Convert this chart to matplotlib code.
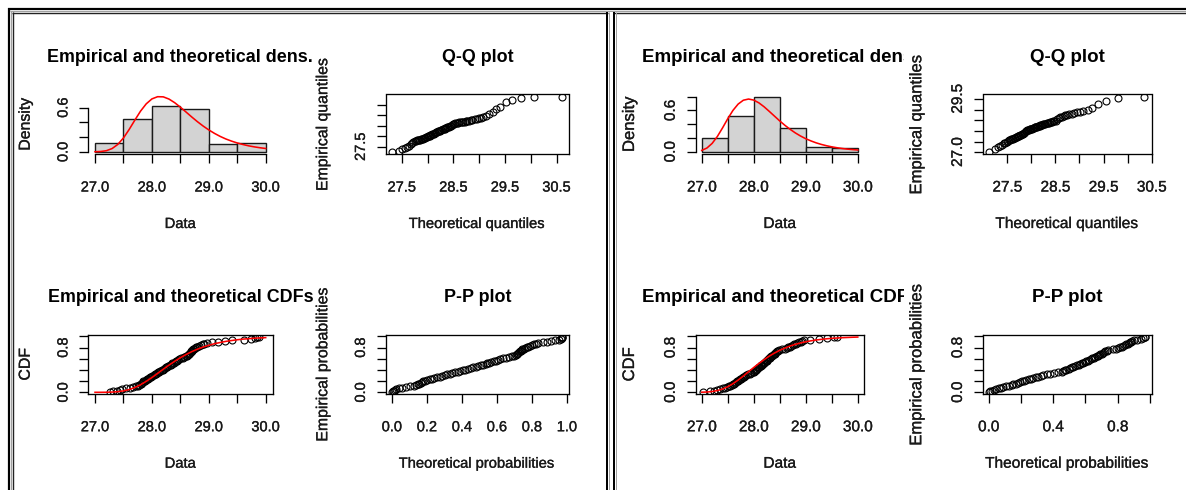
import numpy as np
import matplotlib
matplotlib.use("Agg")
import matplotlib.pyplot as plt
import matplotlib.patheffects as pe
from matplotlib.transforms import Bbox, TransformedBbox

plt.rcParams['font.family'] = ['Liberation Sans', 'DejaVu Sans']

W, H = 1186, 490

# histogram breaks and the x grid where the fitted curves were read
bin_edges = [27.0, 27.5, 28.0, 28.5, 29.0, 29.5, 30.0]
curve_x = [27.0, 27.1, 27.2, 27.3, 27.4, 27.5, 27.6, 27.7, 27.8, 27.9, 28.0,
           28.1, 28.2, 28.3, 28.4, 28.5, 28.6, 28.7, 28.8, 28.9, 29.0,
           29.1, 29.2, 29.3, 29.4, 29.5, 29.6, 29.7, 29.8, 29.9, 30.0]

# ---- left fit ----
left_sample = [27.26, 27.31, 27.38, 27.44, 27.48,
               27.55, 27.61, 27.66, 27.72, 27.76, 27.78, 27.80, 27.81, 27.83, 27.84,
               27.85, 27.87, 27.89, 27.91, 27.93, 27.95, 27.97, 27.99,
               28.01, 28.03, 28.05, 28.07, 28.09, 28.11, 28.13, 28.15, 28.17, 28.19,
               28.21, 28.23, 28.25, 28.27, 28.29, 28.31, 28.33, 28.35, 28.36, 28.38,
               28.40, 28.42, 28.44, 28.46, 28.48,
               28.51, 28.54, 28.57, 28.60, 28.62, 28.64, 28.65, 28.66, 28.67, 28.68,
               28.69, 28.70, 28.71, 28.72, 28.74, 28.76, 28.78, 28.80, 28.83, 28.86,
               28.89, 28.92, 28.96,
               29.06, 29.16, 29.28, 29.41,
               29.62, 29.74, 29.82, 29.85, 29.88]
left_theo_q = [27.32, 27.44, 27.51, 27.56, 27.60, 27.64, 27.67, 27.70, 27.72, 27.75,
               27.77, 27.80, 27.82, 27.84, 27.86, 27.88, 27.90, 27.91, 27.93, 27.95,
               27.97, 27.99, 28.00, 28.02, 28.04, 28.05, 28.07, 28.09, 28.10, 28.12,
               28.14, 28.15, 28.17, 28.19, 28.20, 28.22, 28.24, 28.26, 28.27, 28.29,
               28.31, 28.33, 28.34, 28.36, 28.38, 28.40, 28.42, 28.44, 28.46, 28.48,
               28.50, 28.52, 28.54, 28.57, 28.59, 28.61, 28.64, 28.66, 28.69, 28.72,
               28.74, 28.77, 28.81, 28.84, 28.87, 28.91, 28.95, 28.99, 29.03, 29.08,
               29.13, 29.19, 29.26, 29.33, 29.41, 29.52, 29.64, 29.81, 30.06, 30.61]
left_theo_p = [0.003, 0.005, 0.011, 0.018, 0.025,
               0.041, 0.059, 0.078, 0.104, 0.124, 0.135, 0.147, 0.152, 0.164, 0.170,
               0.176, 0.189, 0.202, 0.216, 0.229, 0.243, 0.257, 0.272,
               0.286, 0.301, 0.315, 0.331, 0.345, 0.360, 0.375, 0.390, 0.405, 0.420,
               0.435, 0.450, 0.464, 0.479, 0.493, 0.508, 0.522, 0.535, 0.542, 0.555,
               0.568, 0.582, 0.594, 0.607, 0.619,
               0.637, 0.654, 0.671, 0.687, 0.697, 0.707, 0.713, 0.717, 0.722, 0.727,
               0.732, 0.736, 0.741, 0.745, 0.754, 0.763, 0.771, 0.779, 0.791, 0.802,
               0.812, 0.823, 0.835,
               0.863, 0.887, 0.911, 0.931,
               0.954, 0.964, 0.969, 0.971, 0.973]
left_density = [0.001, 0.004, 0.015, 0.044, 0.100, 0.188, 0.303, 0.430, 0.552, 0.651, 0.718,
                0.748, 0.746, 0.716, 0.667, 0.606, 0.540, 0.473, 0.409, 0.350, 0.297,
                0.250, 0.209, 0.174, 0.145, 0.120, 0.099, 0.081, 0.067, 0.055, 0.045]
left_cdf = [0.000, 0.000, 0.001, 0.004, 0.011, 0.025, 0.049, 0.086, 0.135, 0.196, 0.264,
            0.338, 0.413, 0.486, 0.555, 0.619, 0.676, 0.727, 0.771, 0.809, 0.841,
            0.869, 0.891, 0.911, 0.926, 0.940, 0.951, 0.959, 0.967, 0.973, 0.978]

# ---- right fit ----
right_sample = [27.02, 27.15, 27.24, 27.30, 27.36, 27.41, 27.45, 27.48,
                27.52, 27.55, 27.58, 27.60, 27.62, 27.64, 27.66, 27.68, 27.70, 27.72,
                27.74, 27.76, 27.78, 27.80, 27.82, 27.84, 27.86, 27.89, 27.92, 27.95, 27.98,
                28.01, 28.02, 28.04, 28.05, 28.07, 28.08, 28.10, 28.11, 28.13, 28.14,
                28.16, 28.17, 28.19, 28.20, 28.22, 28.23, 28.25, 28.26, 28.28, 28.29,
                28.31, 28.32, 28.34, 28.35, 28.37, 28.38, 28.40, 28.41, 28.43, 28.44,
                28.46, 28.48,
                28.55, 28.60, 28.63, 28.66, 28.69, 28.72, 28.75, 28.78, 28.81, 28.84,
                28.87, 28.90, 28.93, 28.97,
                29.08, 29.25, 29.41,
                29.55, 29.60]
right_theo_q = [27.12, 27.24, 27.30, 27.35, 27.39, 27.43, 27.46, 27.49, 27.51, 27.54,
                27.56, 27.58, 27.60, 27.62, 27.64, 27.66, 27.68, 27.70, 27.72, 27.73,
                27.75, 27.77, 27.79, 27.80, 27.82, 27.84, 27.85, 27.87, 27.88, 27.90,
                27.92, 27.93, 27.95, 27.97, 27.98, 28.00, 28.02, 28.03, 28.05, 28.07,
                28.08, 28.10, 28.12, 28.14, 28.16, 28.18, 28.19, 28.21, 28.23, 28.25,
                28.27, 28.29, 28.32, 28.34, 28.36, 28.38, 28.41, 28.43, 28.46, 28.48,
                28.51, 28.54, 28.57, 28.60, 28.64, 28.67, 28.71, 28.75, 28.79, 28.84,
                28.89, 28.95, 29.01, 29.08, 29.17, 29.27, 29.39, 29.56, 29.80, 30.34]
right_theo_p = [0.002, 0.009, 0.019, 0.031, 0.046, 0.062, 0.078, 0.091,
                0.110, 0.126, 0.143, 0.154, 0.167, 0.179, 0.192, 0.206, 0.219, 0.233,
                0.248, 0.262, 0.277, 0.292, 0.307, 0.322, 0.337, 0.360, 0.383, 0.406, 0.429,
                0.452, 0.459, 0.474, 0.481, 0.496, 0.503, 0.517, 0.524, 0.538, 0.545,
                0.559, 0.566, 0.579, 0.586, 0.598, 0.605, 0.617, 0.624, 0.636, 0.642,
                0.653, 0.659, 0.671, 0.676, 0.687, 0.692, 0.703, 0.708, 0.718, 0.723,
                0.732, 0.742,
                0.773, 0.792, 0.804, 0.814, 0.825, 0.834, 0.844, 0.852, 0.861, 0.868,
                0.876, 0.883, 0.890, 0.898,
                0.918, 0.942, 0.958,
                0.968, 0.972]
right_density = [0.020, 0.055, 0.122, 0.222, 0.347, 0.480, 0.601, 0.693, 0.749, 0.766, 0.751,
                 0.710, 0.653, 0.586, 0.517, 0.448, 0.384, 0.326, 0.274, 0.229, 0.190,
                 0.158, 0.130, 0.107, 0.088, 0.072, 0.059, 0.048, 0.039, 0.032, 0.026]
right_cdf = [0.002, 0.005, 0.014, 0.031, 0.059, 0.100, 0.154, 0.219, 0.292, 0.368, 0.444,
             0.517, 0.586, 0.648, 0.703, 0.751, 0.792, 0.828, 0.858, 0.883, 0.904,
             0.921, 0.936, 0.947, 0.957, 0.965, 0.971, 0.977, 0.981, 0.985, 0.988]

fig = plt.figure(figsize=(W / 100, H / 100), dpi=100)

heavy = [pe.withStroke(linewidth=0.22, foreground='#1a1a1a')]


def add_box(box):
    # box is (x0, y0, x1, y1) in pixels, origin top-left
    x0, y0, x1, y1 = box
    return fig.add_axes([x0 / W, 1 - y1 / H, (x1 - x0) / W, (y1 - y0) / H])


def dress(ax, box, xticks, xlabels, yticks, ylabels, xlabel, ylabel, title, clip_x, sc, ylab_off):
    x0, y0, x1, y1 = box
    ax.set_xticks(xticks, xlabels)
    ax.set_yticks(yticks, ylabels)
    for s in ax.spines.values():
        s.set_linewidth(0.95)
    ax.tick_params(length=6.5, width=0.95, labelsize=10.5 * sc, colors='black', labelcolor='#1a1a1a')
    ax.tick_params(axis='x', pad=12.6)
    ax.tick_params(axis='y', pad=6.3, labelrotation=90)
    plt.setp(ax.get_yticklabels(), va='center', path_effects=heavy)
    plt.setp(ax.get_xticklabels(), path_effects=heavy)
    ax.set_xlabel(xlabel, fontsize=10.6 * sc, va='center', color='#1a1a1a', path_effects=heavy)
    ax.set_ylabel(ylabel, fontsize=11.4 * sc, va='center', color='#1a1a1a', path_effects=heavy)
    ax.xaxis.set_label_coords(0.5, -70 / (y1 - y0))
    ax.yaxis.set_label_coords(-ylab_off / (x1 - x0), 0.5)
    t = fig.text((x0 + x1) / 2 / W, 1 - (y0 - 37) / H, title, ha='center', va='center',
                 fontsize=12.9 * sc, fontweight='bold')
    t.set_clip_box(TransformedBbox(Bbox.from_extents(0, 0, clip_x / W, 1), fig.transFigure))
    t.set_clip_on(True)


def circles(ax, x, y):
    ax.plot(x, y, 'o', mfc='none', mec='black', ms=5.0, mew=0.8, zorder=3)


def draw_panel(cols, sample, theo_q, theo_p, dens, cdf, hist_yticks, qq_yticks, qq_ylabels,
               pp_xlabels, titles, clip_x, sc, ylab_off):
    c1, c2 = cols
    top = (94.5, 154.0)
    bot = (335.0, 393.7)
    emp_p = (np.arange(len(sample)) + 0.5) / len(sample)
    xt = bin_edges
    xl = ['27.0', '', '28.0', '', '29.0', '', '30.0']

    # density histogram
    box = (c1[0], top[0], c1[1], top[1])
    ax = add_box(box)
    ax.hist(sample, bins=bin_edges, density=True, color='#d3d3d3', edgecolor='#1a1a1a', lw=1.0)
    ax.plot(curve_x, dens, color='red', lw=1.15)
    ax.use_sticky_edges = False
    ax.margins(0.04)
    ax.spines['top'].set_visible(False)
    ax.spines['right'].set_visible(False)
    ax.spines['bottom'].set_bounds(27, 30)
    ax.spines['left'].set_bounds(0, hist_yticks[-1])
    hl = ['0.0'] + [''] * (len(hist_yticks) - 1)
    hl[3] = '0.6'
    dress(ax, box, xt, xl, hist_yticks, hl, 'Data', 'Density', titles[0], clip_x, sc, ylab_off)

    # Q-Q plot
    box = (c2[0], top[0], c2[1], top[1])
    ax = add_box(box)
    circles(ax, theo_q, sample)
    ax.margins(0.04)
    dress(ax, box, [27.5, 28.0, 28.5, 29.0, 29.5, 30.0, 30.5],
          ['27.5', '', '28.5', '', '29.5', '', '30.5'],
          qq_yticks, qq_ylabels, 'Theoretical quantiles', 'Empirical quantiles',
          'Q-Q plot', W, sc, ylab_off)

    # CDF plot
    box = (c1[0], bot[0], c1[1], bot[1])
    ax = add_box(box)
    circles(ax, sample, emp_p)
    ax.plot(curve_x, cdf, color='red', lw=1.15, zorder=4)
    ax.margins(x=0.04)
    ax.set_ylim(-0.025, 1.025)
    dress(ax, box, xt, xl, [0, 0.2, 0.4, 0.6, 0.8, 1.0], ['0.0', '', '', '', '0.8', ''],
          'Data', 'CDF', titles[1], clip_x, sc, ylab_off)

    # P-P plot
    box = (c2[0], bot[0], c2[1], bot[1])
    ax = add_box(box)
    circles(ax, theo_p, emp_p)
    ax.margins(x=0.04)
    ax.set_ylim(-0.025, 1.025)
    dress(ax, box, [0, 0.2, 0.4, 0.6, 0.8, 1.0], pp_xlabels,
          [0, 0.2, 0.4, 0.6, 0.8, 1.0], ['0.0', '', '', '', '0.8', ''],
          'Theoretical probabilities', 'Empirical probabilities', 'P-P plot', W, sc, ylab_off)


draw_panel(((88.2, 272.5), (385.7, 569.0)), left_sample, left_theo_q, left_theo_p,
           left_density, left_cdf, [0, 0.2, 0.4, 0.6],
           [27.5, 28.0, 28.5, 29.0, 29.5], ['27.5', '', '', '', ''],
           ['0.0', '0.2', '0.4', '0.6', '0.8', '1.0'],
           ['Empirical and theoretical dens.', 'Empirical and theoretical CDFs'], 314, 1.0, 63)

draw_panel(((695.5, 864.0), (982.7, 1151.7)), right_sample, right_theo_q, right_theo_p,
           right_density, right_cdf, [0, 0.2, 0.4, 0.6, 0.8],
           [27.0, 27.5, 28.0, 28.5, 29.0, 29.5], ['27.0', '', '', '', '', '29.5'],
           ['0.0', '', '0.4', '', '0.8', ''],
           ['Empirical and theoretical dens.', 'Empirical and theoretical CDFs'], 904, 1.05, 66)

# page frame around the two result cells
bg = fig.add_axes([0, 0, 1, 1], zorder=-1)
bg.set_xlim(0, W)
bg.set_ylim(H, 0)
bg.axis('off')
pt = 0.72


def seg(xs, ys, lw, c):
    bg.plot(xs, ys, color=c, lw=lw * pt, solid_capstyle='butt')


seg([8, W], [9.5, 9.5], 2.2, 'black')
seg([10, W], [11.2, 11.2], 1.0, '#a0a0a0')
seg([12, 608], [12.8, 12.8], 1.4, '#222222')
seg([614, W], [12.8, 12.8], 1.4, '#222222')
seg([8.5, 8.5], [8.4, H], 2.2, 'black')
seg([10.6, 10.6], [10.6, H], 1.0, '#a0a0a0')
seg([12.6, 12.6], [12.1, H], 1.4, '#222222')
seg([607.4, 607.4], [12.1, H], 2.0, 'black')
seg([609.3, 609.3], [12.1, H], 1.0, '#a0a0a0')
seg([614.0, 614.0], [12.1, H], 2.0, 'black')
seg([616.0, 616.0], [12.1, H], 1.0, '#a0a0a0')

fig.savefig('out.png', dpi=100)
